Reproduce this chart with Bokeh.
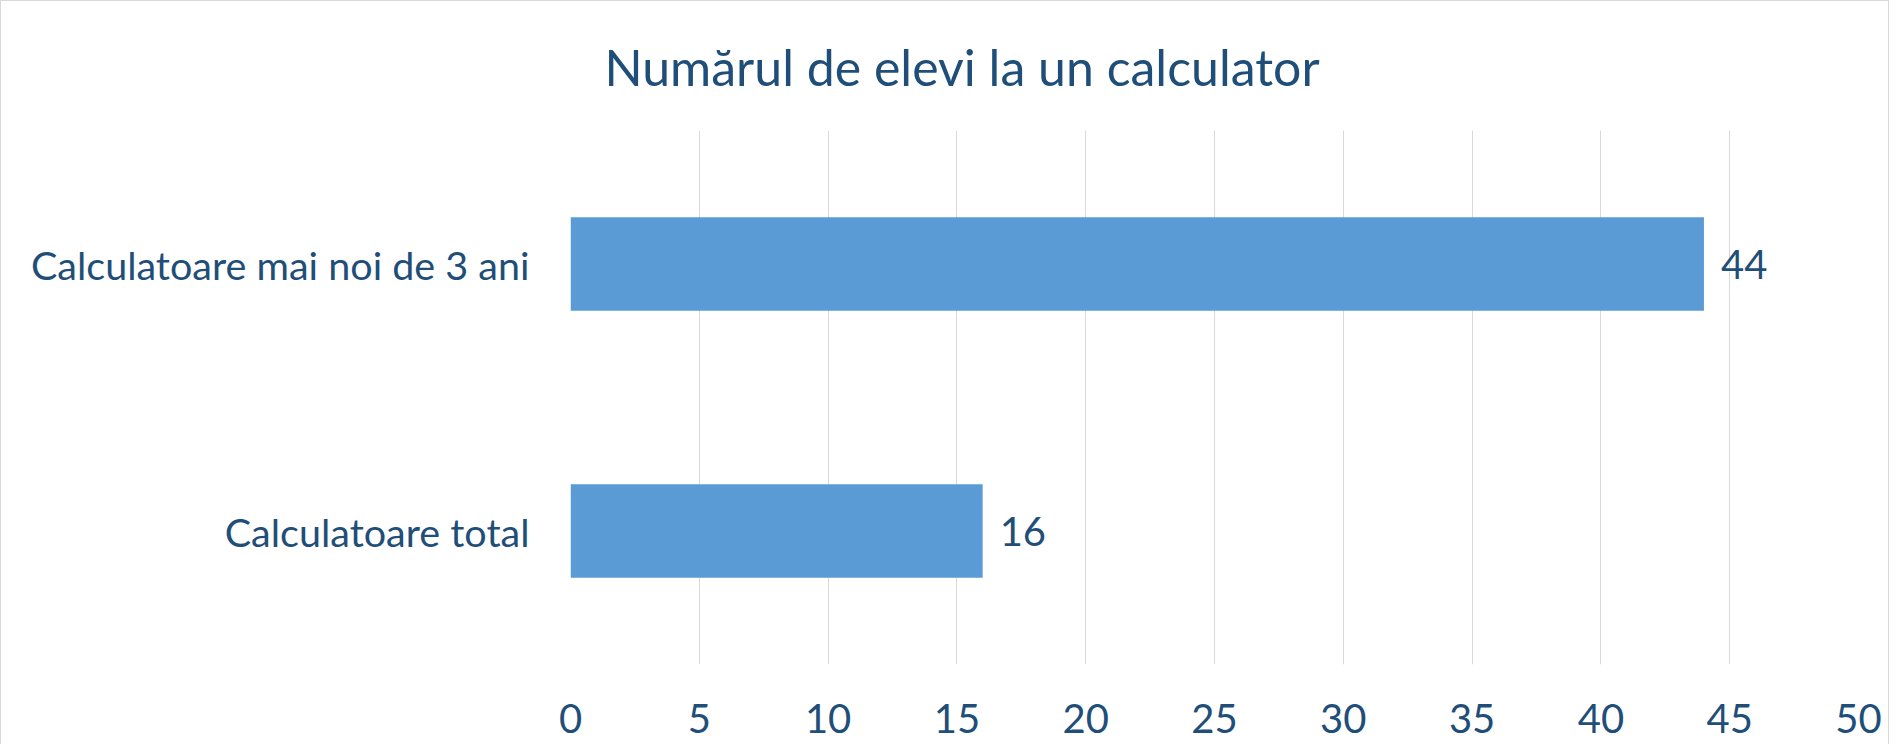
from bokeh.plotting import figure
from bokeh.models import FactorRange, Range1d, ColumnDataSource, FixedTicker, Title
from bokeh.core.properties import value
from bokeh.embed import file_html
from bokeh.resources import INLINE

categories = ["Calculatoare total", "Calculatoare mai noi de 3 ani"]
values = [16, 44]
x_ticks = [0, 5, 10, 15, 20, 25, 30, 35, 40, 45, 50]
title_text = "Numărul de elevi la un calculator"

FONT = "Lato"
TEXT_COLOR = "#1F4E79"
BAR_COLOR = "#5B9BD5"
GRID_COLOR = "#D9D9D9"

src = ColumnDataSource(dict(cat=categories, val=values, lab=[str(v) for v in values]))

p = figure(
    width=1889, height=744,
    y_range=FactorRange(factors=categories, range_padding=0),
    x_range=Range1d(0, 50),
    output_backend="svg", toolbar_location=None,
    min_border_left=569, min_border_right=32, min_border_top=129, min_border_bottom=81,
    styles={"border": "1px solid #D9D9D9", "border-bottom": "none", "box-sizing": "border-box"},
)
p.y_range.range_padding = 0

p.hbar(y="cat", right="val", left=0, height=0.35, source=src, color=BAR_COLOR, line_color=None)
p.text(x="val", y="cat", text="lab", source=src, x_offset=17, text_baseline="middle",
       text_align="left", text_font=value(FONT), text_font_size="40px", text_color=TEXT_COLOR)

t = Title(text=title_text, align="left", offset=34, text_font=FONT, text_font_size="50px",
          text_font_style="normal", text_color=TEXT_COLOR, standoff=67)
p.add_layout(t, "above")

p.xaxis.ticker = FixedTicker(ticks=x_ticks)
for ax in (p.xaxis[0], p.yaxis[0]):
    ax.axis_line_color = None
    ax.major_tick_line_color = None
    ax.minor_tick_line_color = None
    ax.major_label_text_font = FONT
    ax.major_label_text_font_size = "40px"
    ax.major_label_text_color = TEXT_COLOR
p.yaxis.major_label_text_font_size = "39.5px"
p.xaxis.major_label_standoff = 33
p.yaxis.major_label_standoff = 35

p.xgrid.grid_line_color = GRID_COLOR
p.xgrid.grid_line_width = 1
p.ygrid.grid_line_color = None
p.outline_line_color = None

open("out.html", "w").write(file_html(p, INLINE))
